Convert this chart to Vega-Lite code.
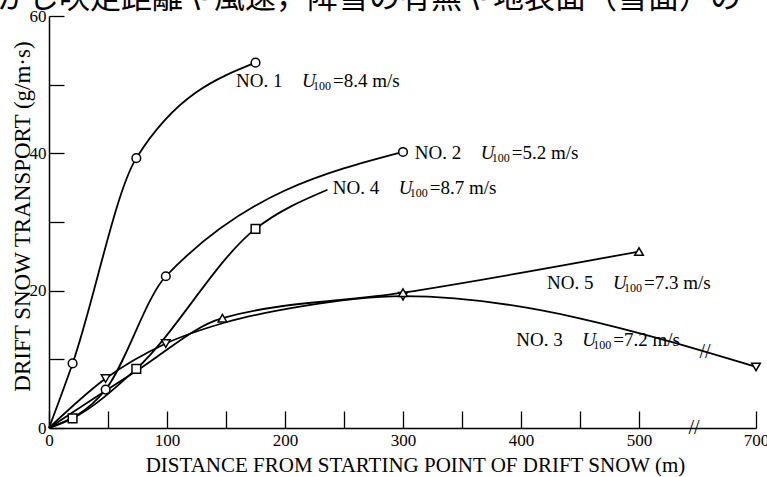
{
  "$schema": "https://vega.github.io/schema/vega-lite/v6.json",
  "width": 707,
  "height": 412,
  "autosize": {"type": "none"},
  "padding": {"left": 49, "top": 16, "right": 11, "bottom": 49},
  "background": "white",
  "config": {"view": {"stroke": null}, "font": "Liberation Serif"},
  "datasets": {
    "curves": [
      {"series": "NO. 1", "d": 0, "q": 0, "marker": false},
      {"series": "NO. 1", "d": 20, "q": 9.4, "marker": true},
      {"series": "NO. 1", "d": 74, "q": 39.3, "marker": true},
      {"series": "NO. 1", "d": 175, "q": 53.2, "marker": true},
      {"series": "NO. 2", "d": 0, "q": 0, "marker": false},
      {"series": "NO. 2", "d": 48, "q": 5.6, "marker": true},
      {"series": "NO. 2", "d": 99, "q": 22.1, "marker": true},
      {"series": "NO. 2", "d": 300, "q": 40.2, "marker": true},
      {"series": "NO. 3", "d": 0, "q": 0, "marker": false},
      {"series": "NO. 3", "d": 48, "q": 7.2, "marker": true},
      {"series": "NO. 3", "d": 99, "q": 12.3, "marker": true},
      {"series": "NO. 3", "d": 150, "q": 15.4, "marker": false},
      {"series": "NO. 3", "d": 210, "q": 17.6, "marker": false},
      {"series": "NO. 3", "d": 300, "q": 19.2, "marker": true},
      {"series": "NO. 3", "d": 700, "q": 8.9, "marker": true},
      {"series": "NO. 4", "d": 0, "q": 0, "marker": false},
      {"series": "NO. 4", "d": 20, "q": 1.4, "marker": true},
      {"series": "NO. 4", "d": 74, "q": 8.6, "marker": true},
      {"series": "NO. 4", "d": 175, "q": 29, "marker": true},
      {"series": "NO. 4", "d": 236, "q": 34.7, "marker": false},
      {"series": "NO. 5", "d": 0, "q": 0, "marker": false},
      {"series": "NO. 5", "d": 74, "q": 8.3, "marker": false},
      {"series": "NO. 5", "d": 147, "q": 16, "marker": true},
      {"series": "NO. 5", "d": 300, "q": 19.7, "marker": true},
      {"series": "NO. 5", "d": 500, "q": 25.7, "marker": true}
    ],
    "labels": [
      {"name": "NO. 1", "speed": "=8.4 m/s", "lx": 158.5, "ly": 50.5},
      {"name": "NO. 2", "speed": "=5.2 m/s", "lx": 310, "ly": 40},
      {"name": "NO. 4", "speed": "=8.7 m/s", "lx": 240.5, "ly": 35},
      {"name": "NO. 5", "speed": "=7.3 m/s", "lx": 422, "ly": 21.1},
      {"name": "NO. 3", "speed": "=7.2 m/s", "lx": 396, "ly": 12.8}
    ],
    "breaks": [
      {"bx": 594, "by": 0, "sym": "//"},
      {"bx": 613, "by": 11.1, "sym": "//"}
    ],
    "header": [
      {"hx": -44, "hy": 61.1, "text": "かし吹走距離や風速，降雪の有無や地表面（雪面）の"}
    ]
  },
  "layer": [
    {
      "data": {"name": "curves"},
      "mark": {"type": "line", "interpolate": "monotone", "color": "black", "strokeWidth": 1.8},
      "encoding": {
        "x": {
          "field": "d", "type": "quantitative",
          "scale": {"type": "linear", "domain": [0, 500, 700], "range": [0, 590, 707], "nice": false, "zero": false},
          "axis": {
            "title": "DISTANCE FROM STARTING POINT OF DRIFT SNOW  (m)",
            "values": [0, 50, 100, 150, 200, 250, 300, 350, 400, 450, 500, 700],
            "labelExpr": "datum.value % 100 === 0 ? datum.label : ''",
            "tickSize": -17,
            "labelPadding": 21,
            "labelFlush": false,
            "grid": false,
            "domainColor": "black", "domainWidth": 1.5,
            "tickColor": "black", "tickWidth": 1.3,
            "labelColor": "black", "labelFont": "Liberation Serif", "labelFontSize": 17,
            "titleColor": "black", "titleFont": "Liberation Serif", "titleFontSize": 21, "titleFontWeight": "normal",
            "titleX": 366, "titleY": 26,
            "encode": {"ticks": {"update": {"y2": {"signal": "datum.value % 100 === 0 ? -17 : -10"}}}}
          }
        },
        "y": {
          "field": "q", "type": "quantitative",
          "scale": {"domain": [0, 60], "nice": false, "zero": true},
          "axis": {
            "title": "DRIFT SNOW TRANSPORT  (g/m·s)",
            "values": [0, 10, 20, 30, 40, 50, 60],
            "labelExpr": "datum.value % 20 === 0 ? datum.label : ''",
            "tickSize": -15,
            "labelPadding": 18,
            "labelFlush": false,
            "grid": false,
            "domainColor": "black", "domainWidth": 1.5,
            "tickColor": "black", "tickWidth": 1.3,
            "labelColor": "black", "labelFont": "Liberation Serif", "labelFontSize": 17,
            "titleColor": "black", "titleFont": "Liberation Serif", "titleFontSize": 23, "titleFontWeight": "normal",
            "titleX": -15, "titleY": 200
          }
        },
        "detail": {"field": "series"}
      }
    },
    {
      "data": {"name": "curves"},
      "transform": [{"filter": "datum.marker"}],
      "mark": {"type": "point", "filled": true, "fill": "white", "stroke": "black", "strokeWidth": 1.5, "size": 75, "opacity": 1},
      "encoding": {
        "x": {"field": "d", "type": "quantitative"},
        "y": {"field": "q", "type": "quantitative"},
        "shape": {
          "field": "series", "type": "nominal",
          "scale": {"domain": ["NO. 1", "NO. 2", "NO. 3", "NO. 4", "NO. 5"], "range": ["circle", "circle", "triangle-down", "square", "triangle-up"]},
          "legend": null
        }
      }
    },
    {
      "data": {"name": "labels"},
      "mark": {"type": "text", "align": "left", "baseline": "middle", "font": "Liberation Serif", "fontSize": 19, "fill": "black"},
      "encoding": {
        "x": {"field": "lx", "type": "quantitative"},
        "y": {"field": "ly", "type": "quantitative"},
        "text": {"field": "name"}
      }
    },
    {
      "data": {"name": "labels"},
      "mark": {"type": "text", "align": "left", "baseline": "middle", "font": "Liberation Serif", "fontSize": 19, "fontStyle": "italic", "fill": "black", "dx": 66},
      "encoding": {
        "x": {"field": "lx", "type": "quantitative"},
        "y": {"field": "ly", "type": "quantitative"},
        "text": {"value": "U"}
      }
    },
    {
      "data": {"name": "labels"},
      "mark": {"type": "text", "align": "left", "baseline": "middle", "font": "Liberation Serif", "fontSize": 12, "fill": "black", "dx": 77, "dy": 5},
      "encoding": {
        "x": {"field": "lx", "type": "quantitative"},
        "y": {"field": "ly", "type": "quantitative"},
        "text": {"value": "100"}
      }
    },
    {
      "data": {"name": "labels"},
      "mark": {"type": "text", "align": "left", "baseline": "middle", "font": "Liberation Serif", "fontSize": 19, "fill": "black", "dx": 97},
      "encoding": {
        "x": {"field": "lx", "type": "quantitative"},
        "y": {"field": "ly", "type": "quantitative"},
        "text": {"field": "speed"}
      }
    },
    {
      "data": {"name": "breaks"},
      "mark": {"type": "text", "align": "center", "baseline": "middle", "font": "Liberation Serif", "fontSize": 20, "fill": "black"},
      "encoding": {
        "x": {"field": "bx", "type": "quantitative"},
        "y": {"field": "by", "type": "quantitative"},
        "text": {"field": "sym"}
      }
    },
    {
      "data": {"name": "header"},
      "mark": {"type": "text", "align": "left", "baseline": "alphabetic", "font": "Noto Sans CJK JP", "fontSize": 31, "fill": "black"},
      "encoding": {
        "x": {"field": "hx", "type": "quantitative"},
        "y": {"field": "hy", "type": "quantitative"},
        "text": {"field": "text"}
      }
    }
  ]
}
